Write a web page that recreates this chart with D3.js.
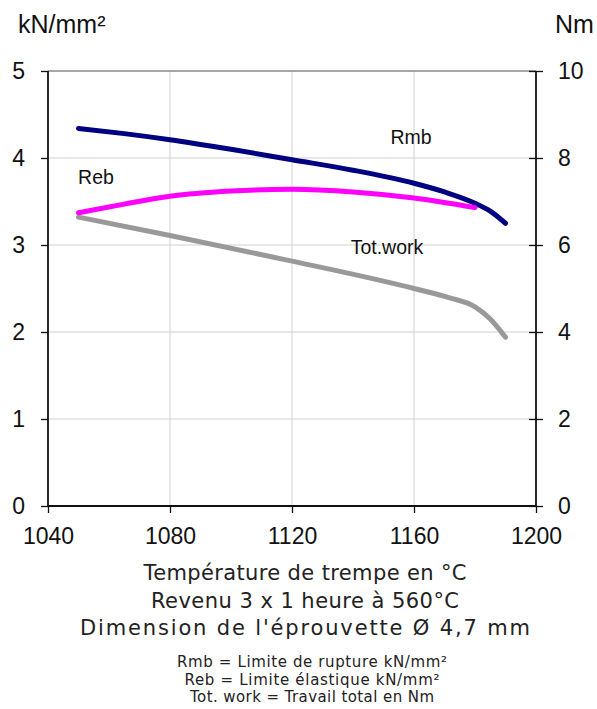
<!DOCTYPE html>
<html>
<head>
<meta charset="utf-8">
<script src="https://cdn.jsdelivr.net/npm/d3@7"></script>
<style>
  body { margin: 0; background: #fff; }
  svg { display: block; }
</style>
</head>
<body>
<svg id="chart" width="597" height="709"></svg>
<script>
var w = 597;
var h = 709;

// data
var temps = [1050, 1065, 1080, 1100, 1120, 1140, 1160, 1170, 1180, 1185, 1190];
var rmb   = [4.34, 4.28, 4.21, 4.10, 3.98, 3.86, 3.71, 3.61, 3.48, 3.39, 3.25];

var rebTemps = [1050, 1065, 1080, 1100, 1120, 1140, 1160, 1180];
var reb      = [3.37, 3.47, 3.56, 3.62, 3.64, 3.61, 3.54, 3.43];

var workTemps = [1050, 1080, 1120, 1160, 1172, 1180, 1185, 1190];
var work      = [6.64, 6.22, 5.63, 5.00, 4.78, 4.58, 4.30, 3.88];

var xTicks = [1040, 1080, 1120, 1160, 1200];
var yLeftTicks = [0, 1, 2, 3, 4, 5];
var yRightTicks = [0, 2, 4, 6, 8, 10];

var captions = ["Température de trempe en °C", "Revenu 3 x 1 heure à 560°C", "Dimension de l'éprouvette Ø 4,7 mm"];
var legendLines = ["Rmb = Limite de rupture kN/mm²", "Reb = Limite élastique kN/mm²", "Tot. work = Travail total en Nm"];

var pLeft = 48, pRight = 536, pTop = 71, pBottom = 506;

var svg = d3.select("#chart");

var x = d3.scaleLinear().domain([1040, 1200]).range([pLeft, pRight]);
var yL = d3.scaleLinear().domain([0, 5]).range([pBottom, pTop]);
var yR = d3.scaleLinear().domain([0, 10]).range([pBottom, pTop]);

// grid
svg.append("g")
  .selectAll("line")
  .data(xTicks.slice(1, -1))
  .enter().append("line")
  .attr("x1", function(d) { return x(d); })
  .attr("x2", function(d) { return x(d); })
  .attr("y1", pTop).attr("y2", pBottom)
  .attr("stroke", "#d0d0d0").attr("stroke-width", 1);

svg.append("g")
  .selectAll("line")
  .data(yLeftTicks.slice(1, -1))
  .enter().append("line")
  .attr("x1", pLeft).attr("x2", pRight)
  .attr("y1", function(d) { return yL(d); })
  .attr("y2", function(d) { return yL(d); })
  .attr("stroke", "#d0d0d0").attr("stroke-width", 1);

// top border
svg.append("line")
  .attr("x1", pLeft).attr("x2", pRight)
  .attr("y1", pTop).attr("y2", pTop)
  .attr("stroke", "#888").attr("stroke-width", 1.5);

// axes
var font = "'Liberation Sans', Arial, sans-serif";

var xAxis = svg.append("g")
  .attr("transform", "translate(0," + pBottom + ")")
  .call(d3.axisBottom(x).tickValues(xTicks).tickSize(7).tickPadding(15).tickFormat(d3.format("d")));

var leftAxis = svg.append("g")
  .attr("transform", "translate(" + pLeft + ",0)")
  .call(d3.axisLeft(yL).tickValues(yLeftTicks).tickSize(7).tickPadding(16).tickFormat(d3.format("d")));

var rightAxis = svg.append("g")
  .attr("transform", "translate(" + pRight + ",0)")
  .call(d3.axisRight(yR).tickValues(yRightTicks).tickSize(7).tickPadding(15).tickFormat(d3.format("d")));

rightAxis.selectAll(".tick line").attr("x1", -7);

[xAxis, leftAxis, rightAxis].forEach(function(a) {
  a.select(".domain").attr("stroke", "#111").attr("stroke-width", 1.8);
  a.selectAll(".tick line").attr("stroke", "#111").attr("stroke-width", 1.3);
  a.selectAll(".tick text")
    .attr("font-family", font)
    .attr("font-size", 23)
    .attr("fill", "#111");
});
// drop the outer ticks of the domain paths
xAxis.select(".domain").attr("d", "M" + pLeft + ",0H" + pRight);
leftAxis.select(".domain").attr("d", "M0," + pTop + "V" + pBottom);
rightAxis.select(".domain").attr("d", "M0," + pTop + "V" + pBottom);

// unit titles
svg.append("text").text("kN/mm²")
  .attr("x", 18).attr("y", 33)
  .attr("font-family", font).attr("font-size", 25).attr("fill", "#111");
svg.append("text").text("Nm")
  .attr("x", 555).attr("y", 33)
  .attr("font-family", font).attr("font-size", 25).attr("fill", "#111");

// lines
function drawLine(xs, ys, scale, color) {
  var pts = xs.map(function(t, i) { return [t, ys[i]]; });
  var line = d3.line()
    .x(function(d) { return x(d[0]); })
    .y(function(d) { return scale(d[1]); })
    .curve(d3.curveMonotoneX);
  svg.append("path")
    .datum(pts)
    .attr("d", line)
    .attr("fill", "none")
    .attr("stroke", color)
    .attr("stroke-width", 5)
    .attr("stroke-linecap", "round")
    .attr("stroke-linejoin", "round");
}

drawLine(workTemps, work, yR, "#999999");
drawLine(temps, rmb, yL, "#000080");
drawLine(rebTemps, reb, yL, "#ff00ff");

// series labels
var seriesLabels = [
  {text: "Rmb", x: 411, y: 144},
  {text: "Reb", x: 96, y: 184},
  {text: "Tot.work", x: 387, y: 254}
];
svg.append("g")
  .selectAll("text")
  .data(seriesLabels)
  .enter().append("text")
  .text(function(d) { return d.text; })
  .attr("x", function(d) { return d.x; })
  .attr("y", function(d) { return d.y; })
  .attr("text-anchor", "middle")
  .attr("font-family", font)
  .attr("font-size", 19.5)
  .attr("fill", "#111");

// captions below
var capWidths = [323, 308, 450];
svg.append("g")
  .selectAll("text")
  .data(captions)
  .enter().append("text")
  .text(function(d) { return d; })
  .attr("x", 305)
  .attr("y", function(d, i) { return 580 + i * 27.5; })
  .attr("text-anchor", "middle")
  .attr("textLength", function(d, i) { return capWidths[i]; })
  .attr("lengthAdjust", "spacing")
  .attr("font-family", "'DejaVu Sans', sans-serif")
  .attr("font-size", 21)
  .attr("fill", "#222");

var legWidths = [270, 255, 244];
svg.append("g")
  .selectAll("text")
  .data(legendLines)
  .enter().append("text")
  .text(function(d) { return d; })
  .attr("x", 312)
  .attr("y", function(d, i) { return 667 + i * 17.5; })
  .attr("text-anchor", "middle")
  .attr("textLength", function(d, i) { return legWidths[i]; })
  .attr("lengthAdjust", "spacing")
  .attr("font-family", "'DejaVu Sans', sans-serif")
  .attr("font-size", 15)
  .attr("fill", "#222");
</script>
</body>
</html>
